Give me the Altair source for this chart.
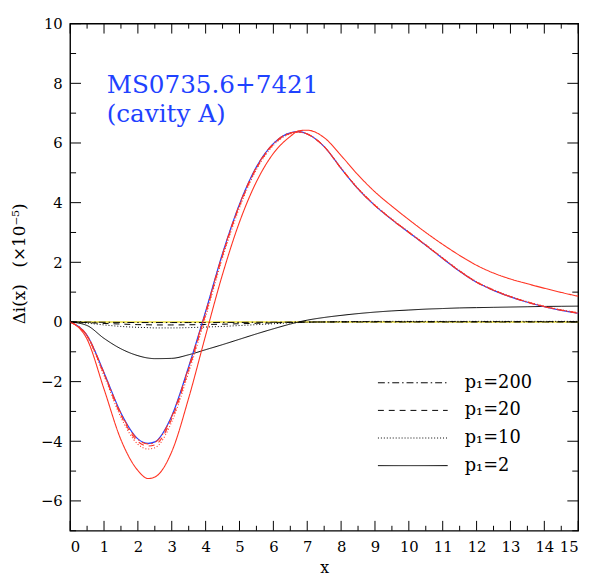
import altair as alt
import pandas as pd

# ---------------- data ----------------
X = [0, 0.5, 1, 1.5, 2, 2.3, 2.5, 3, 3.5, 4, 4.5, 5, 5.5, 6, 6.5, 6.75, 7, 7.5, 8, 8.5,
     9, 9.5, 10, 10.5, 11, 11.5, 12, 12.5, 13, 13.5, 14, 14.5, 15]

blue = [0, -0.45, -1.70, -3.05, -3.92, -4.07, -4.02, -3.15, -1.50, 0.35, 2.30, 3.95, 5.20, 5.98,
        6.34, 6.38, 6.30, 5.88, 5.15, 4.46, 3.90, 3.43, 3.00, 2.57, 2.13, 1.70, 1.33, 1.06, 0.84,
        0.66, 0.51, 0.39, 0.29]

red_p200 = [0, -0.45, -1.71, -3.07, -3.94, -4.09, -4.04, -3.17, -1.52, 0.33, 2.28, 3.94, 5.19, 5.98,
            6.34, 6.38, 6.30, 5.88, 5.15, 4.46, 3.90, 3.43, 3.00, 2.57, 2.13, 1.70, 1.33, 1.06, 0.84,
            0.66, 0.51, 0.39, 0.29]
red_p20 = [0, -0.47, -1.75, -3.13, -4.01, -4.16, -4.12, -3.25, -1.60, 0.26, 2.22, 3.89, 5.15, 5.95,
           6.32, 6.37, 6.30, 5.88, 5.15, 4.47, 3.91, 3.44, 3.01, 2.58, 2.14, 1.71, 1.34, 1.07, 0.85,
           0.67, 0.52, 0.40, 0.30]
red_p10 = [0, -0.49, -1.80, -3.20, -4.10, -4.26, -4.22, -3.35, -1.69, 0.18, 2.15, 3.83, 5.11, 5.92,
           6.31, 6.36, 6.30, 5.88, 5.16, 4.48, 3.92, 3.45, 3.02, 2.59, 2.15, 1.72, 1.35, 1.08, 0.86,
           0.68, 0.53, 0.41, 0.31]
red_p2 = [0, -0.58, -2.25, -3.95, -4.98, -5.25, -5.20, -4.35, -2.55, -0.45, 1.60, 3.35, 4.70, 5.65,
          6.22, 6.41, 6.43, 6.18, 5.58, 4.93, 4.36, 3.88, 3.43, 3.00, 2.60, 2.23, 1.90, 1.64, 1.44,
          1.28, 1.13, 0.99, 0.86]

blk_p200 = [0, -0.005, -0.01, -0.015, -0.02, -0.02, -0.02, -0.02, -0.02, -0.02, -0.015, -0.015,
            -0.01, -0.01, -0.005, 0, 0, 0, 0, 0, 0, 0, 0, 0, 0, 0, 0, 0, 0, 0, 0, 0, 0]
blk_p20 = [0, -0.02, -0.05, -0.07, -0.09, -0.095, -0.10, -0.10, -0.095, -0.085, -0.075, -0.06,
           -0.045, -0.03, -0.015, -0.01, -0.005, 0, 0.005, 0.01, 0.01, 0.01, 0.01, 0.01, 0.01,
           0.01, 0.01, 0.01, 0.01, 0.01, 0.01, 0.01, 0.01]
blk_p10 = [0, -0.04, -0.10, -0.15, -0.18, -0.19, -0.20, -0.20, -0.19, -0.17, -0.15, -0.12, -0.09,
           -0.06, -0.03, -0.02, -0.01, 0, 0.01, 0.01, 0.02, 0.02, 0.02, 0.02, 0.02, 0.02, 0.02,
           0.02, 0.02, 0.02, 0.02, 0.02, 0.02]
blk_p2 = [0, -0.12, -0.55, -0.90, -1.13, -1.21, -1.23, -1.22, -1.10, -0.93, -0.76, -0.58, -0.40,
          -0.23, -0.07, 0.0, 0.06, 0.15, 0.22, 0.28, 0.33, 0.37, 0.40, 0.43, 0.45, 0.47, 0.48,
          0.49, 0.50, 0.51, 0.52, 0.525, 0.53]

yellow_zero = [0.0] * len(X)

P_LABELS = ['p₁=200', 'p₁=20', 'p₁=10', 'p₁=2']
DASHES = [[7, 3, 1.5, 3], [6, 5], [1, 2], [1, 0]]

x_major = list(range(0, 16))
x_minor = [i + 0.5 for i in range(15)]
y_major = list(range(-6, 11, 2))
y_minor = list(range(-7, 10, 2))

TITLE_TEXT = 'MS0735.6+7421\n(cavity A)'
Y_TITLE = 'Δi(x)\u2003(×10⁻⁵)'

# ---------------- frames ----------------
def series_df(values_list, labels, fam):
    rows = []
    for vals, lab in zip(values_list, labels):
        for xv, yv in zip(X, vals):
            rows.append({'x': xv, 'y': yv, 'p': lab, 'fam': fam, 'id': fam + lab})
    return pd.DataFrame(rows)

df_black = series_df([blk_p200, blk_p20, blk_p10, blk_p2], P_LABELS, 'black')
df_red = series_df([red_p200, red_p20, red_p10, red_p2], P_LABELS, 'red')
df_blue = pd.DataFrame({'x': X, 'y': blue})
df_yel = pd.DataFrame({'x': X, 'y': yellow_zero})

W, H = 515, 514
FONT = 'DejaVu Serif'
RED = '#ff3322'
BLUE = '#1f42ff'

xs = alt.Scale(domain=[0, 15], nice=False, zero=False)
ys = alt.Scale(domain=[-7, 10], nice=False, zero=False)

x_axis = alt.Axis(values=x_major, ticks=False, domain=False, grid=False, labelPadding=9,
                  title='x', titleY=42, titleBaseline='alphabetic', format='d')
y_axis = alt.Axis(values=y_major, ticks=False, domain=False, grid=False, labelPadding=8,
                  title=Y_TITLE, titleX=-51, titleY=243, titleAlign='center',
                  titleBaseline='middle', titleFontSize=17, format='d')


def X_(field='x'):
    return alt.X(field + ':Q', scale=xs, axis=x_axis, title='x')


def Y_(field='y'):
    return alt.Y(field + ':Q', scale=ys, axis=y_axis, title=Y_TITLE)


dash_scale = alt.Scale(domain=P_LABELS, range=DASHES)

yellow = alt.Chart(df_yel).mark_line(color='#efe23a', strokeWidth=1.6).encode(
    x=X_(), y=Y_(),
)

black = alt.Chart(df_black).mark_line(color='black', strokeWidth=1, interpolate='monotone').encode(
    x=X_(), y=Y_(),
    strokeDash=alt.StrokeDash('p:N', scale=dash_scale, sort=P_LABELS,
                              legend=alt.Legend(orient='none', legendX=303, legendY=355,
                                                title=None, symbolType='M0,0H10', symbolSize=200,
                                                symbolStrokeWidth=1, symbolStrokeColor='black',
                                                labelFont=FONT, labelFontSize=18, labelColor='black',
                                                labelOffset=79, rowPadding=10, padding=0,
                                                labelLimit=0)),
    detail='id:N',
)

blue_line = alt.Chart(df_blue).mark_line(color=BLUE, strokeWidth=1.2, interpolate='monotone').encode(
    x=X_(), y=Y_(),
)

red = alt.Chart(df_red).mark_line(color=RED, strokeWidth=1.1, interpolate='monotone').encode(
    x=X_(), y=Y_(),
    strokeDash=alt.StrokeDash('p:N', scale=dash_scale, sort=P_LABELS, legend=None),
    detail='id:N',
)


def tick_layer(vals, orient, length):
    d = pd.DataFrame({'x': vals, 'y': vals})
    c = alt.Chart(d).mark_rule(color='black', strokeWidth=1)
    if orient == 'bottom':
        return c.encode(x=X_(), y=alt.value(H), y2=alt.value(H - length))
    if orient == 'top':
        return c.encode(x=X_(), y=alt.value(0), y2=alt.value(length))
    if orient == 'left':
        return c.encode(y=Y_(), x=alt.value(0), x2=alt.value(length))
    return c.encode(y=Y_(), x=alt.value(W), x2=alt.value(W - length))


ticks = []
for o in ['bottom', 'top']:
    ticks.append(tick_layer(x_major, o, 10))
    ticks.append(tick_layer(x_minor, o, 5))
for o in ['left', 'right']:
    ticks.append(tick_layer(y_major, o, 11))
    ticks.append(tick_layer(y_minor, o, 6))

title = alt.Chart(pd.DataFrame({'t': [TITLE_TEXT]})).mark_text(
    align='left', baseline='top', font=FONT, fontSize=25, color=BLUE, lineBreak='\n',
    lineHeight=30
).encode(x=alt.value(37), y=alt.value(50), text='t:N')

chart = alt.layer(yellow, black, blue_line, red, *ticks, title).properties(
    width=W, height=H,
    padding={'left': 63, 'top': 12, 'right': 14, 'bottom': 44},
    autosize=alt.AutoSizeParams(type='none'),
).configure_view(stroke='black', strokeWidth=1.4).configure_axis(
    labelFont=FONT, labelFontSize=15, labelColor='black',
    titleFont=FONT, titleFontSize=16, titleFontWeight='normal', titleColor='black'
).configure_legend(symbolStrokeColor='black')

chart.save('out.html', embed_options={'renderer': 'svg', 'actions': False})
